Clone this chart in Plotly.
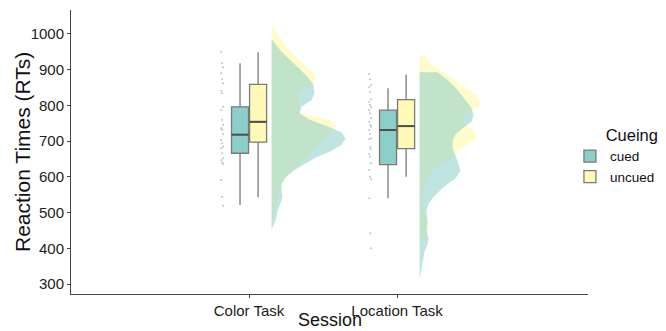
import plotly.graph_objects as go

# ---------------- data ----------------
sessions = ["Color Task", "Location Task"]
groups = ["cued", "uncued"]

# box statistics  [Color Task, Location Task]
cued_lower = [521, 540]
cued_q1 = [666, 634]
cued_median = [718, 731]
cued_q3 = [796, 787]
cued_upper = [918, 848]

uncued_lower = [543, 600]
uncued_q1 = [697, 679]
uncued_median = [754, 742]
uncued_q3 = [859, 816]
uncued_upper = [949, 886]

# raw RT observations (rain)
color_rts = [950, 918, 907, 890, 873, 862, 841, 834, 796, 787, 759, 745, 736, 731,
             720, 703, 694, 684, 680, 666, 652, 647, 640, 636, 591, 544, 519]
location_rts = [888, 873, 857, 851, 838, 817, 810, 801, 795, 787, 778, 764, 754, 745,
                740, 731, 720, 708, 705, 683, 677, 664, 656, 638, 619, 600, 593, 540,
                442, 400]

# half-violin density profiles (RT value, relative density)
color_cued_rt = [986, 950, 910, 880, 857, 835, 815, 796, 778, 760, 742, 725, 707, 690,
                 672, 655, 636, 617, 598, 580, 561, 542, 525, 505, 478, 452]
color_cued_den = [0, 10, 25, 36, 42, 43, 40, 30, 28, 38, 55, 70, 74, 70, 60, 45, 33,
                  22, 14, 10, 10, 11, 9, 6, 4, 0]
color_uncued_rt = [1025, 983, 947, 908, 880, 863, 838, 796, 779, 760, 740, 733, 705,
                   677, 649, 621, 593, 565, 528, 489, 468]
color_uncued_den = [0, 10, 20, 35, 45, 43, 27, 27, 28, 57, 65, 61, 52, 43, 33, 22, 13,
                    8, 5, 2, 0]
loc_cued_rt = [893, 871, 843, 815, 793, 773, 754, 740, 719, 700, 680, 644, 616, 596,
               580, 560, 540, 524, 504, 476, 448, 428, 411, 392, 364, 312]
loc_cued_den = [18, 28, 38, 46, 52, 54, 52, 45, 36, 33, 33, 38, 41, 36, 28, 20, 13, 9,
                7, 8, 7, 9, 8, 5, 3, 0]
loc_uncued_rt = [938, 921, 902, 883, 863, 845, 826, 808, 794, 770, 753, 728, 711, 692,
                 672, 655, 636, 616, 588, 546, 518, 490, 470, 448, 426, 409]
loc_uncued_den = [6, 9, 19, 29, 39, 49, 58, 61, 58, 43, 43, 54, 58, 49, 38, 34, 22, 13,
                  6, 3, 3, 6, 9, 9, 5, 0]

y_ticks = [300, 400, 500, 600, 700, 800, 900, 1000]

# ---------------- styling ----------------
CUED = "rgb(140,206,201)"
UNCUED = "rgb(255,250,183)"
CUED_V = "rgba(140,206,201,0.55)"
UNCUED_V = "rgba(255,250,170,0.6)"
FONT = "Liberation Sans, Arial, sans-serif"
PX = 148.0  # pixels per category unit (for density scaling)

centers = [1, 2]
box_off = 0.061
box_w = 0.115
violin_off = 0.152
rain_off = -0.182

fig = go.Figure()

def violin(center, rts, dens, fill):
    base = center + violin_off
    xs = [base + d / PX for d in dens] + [base, base]
    ys = list(rts) + [rts[-1], rts[0]]
    fig.add_trace(go.Scatter(x=xs, y=ys, fill="toself", fillcolor=fill, mode="lines",
                             line=dict(width=0), hoverinfo="skip", showlegend=False))

violin(1, color_uncued_rt, color_uncued_den, UNCUED_V)
violin(2, loc_uncued_rt, loc_uncued_den, UNCUED_V)
violin(1, color_cued_rt, color_cued_den, CUED_V)
violin(2, loc_cued_rt, loc_cued_den, CUED_V)

# rain points (tiny deterministic jitter pattern)
for c, rts in zip(centers, [color_rts, location_rts]):
    xs = [c + rain_off + ((i % 3) - 1) * 0.006 for i in range(len(rts))]
    fig.add_trace(go.Scatter(x=xs, y=rts, mode="markers",
                             marker=dict(size=2, color="rgba(120,120,120,0.45)"),
                             hoverinfo="skip", showlegend=False))

# boxes
for name, col, sgn, lo, q1, md, q3, up in [
        ("cued", CUED, -1, cued_lower, cued_q1, cued_median, cued_q3, cued_upper),
        ("uncued", UNCUED, 1, uncued_lower, uncued_q1, uncued_median, uncued_q3, uncued_upper)]:
    xs = [c + sgn * box_off for c in centers]
    fig.add_trace(go.Box(x=xs, q1=q1, median=md, q3=q3, lowerfence=lo, upperfence=up,
                         name=name, fillcolor=col, line=dict(color="#7a7a7a", width=1.3),
                         whiskerwidth=0, width=box_w, boxpoints=False, showlegend=True))
    for x, m in zip(xs, md):
        fig.add_trace(go.Scatter(x=[x - box_w / 2, x + box_w / 2], y=[m, m], mode="lines",
                                 line=dict(color="#4d4d4d", width=2), hoverinfo="skip",
                                 showlegend=False))

# the page body adds an 8px offset, so the figure is 8px smaller than the window
fig.update_layout(
    width=658, height=323,
    margin=dict(l=63, r=78, t=2, b=37, autoexpand=False),
    paper_bgcolor="white", plot_bgcolor="white",
    font=dict(family=FONT, color="#222"),
    boxmode="overlay",
    legend=dict(title=dict(text="Cueing", font=dict(size=16.5, color="#111"), side="top right"),
                font=dict(size=13.5, color="#111"),
                xref="container", yref="container",
                x=0.854, xanchor="left", y=0.655, yanchor="top",
                tracegroupgap=0, itemwidth=30),
    xaxis=dict(range=[-0.203, 3.29], tickmode="array", tickvals=centers, ticktext=sessions,
               showline=True, linecolor="#444", linewidth=1, ticks="outside", ticklen=3,
               tickcolor="#444", showgrid=False, zeroline=False, automargin=False,
               tickfont=dict(size=15, color="#222")),
    yaxis=dict(range=[272, 1067], tickmode="array", tickvals=y_ticks,
               showline=True, linecolor="#444", linewidth=1, ticks="outside", ticklen=3,
               tickcolor="#444", showgrid=False, zeroline=False, automargin=False,
               tickfont=dict(size=15, color="#222")),
    annotations=[
        dict(text="Session", xref="paper", yref="paper", x=0.5, y=-0.091,
             xanchor="center", yanchor="middle", showarrow=False,
             font=dict(size=18, color="#111")),
        dict(text="Reaction Times (RTs)", xref="paper", yref="paper", x=-0.0948, y=0.5,
             xanchor="center", yanchor="middle", textangle=-90, showarrow=False,
             font=dict(size=21, color="#111")),
    ],
)

fig.write_html("out.html")
